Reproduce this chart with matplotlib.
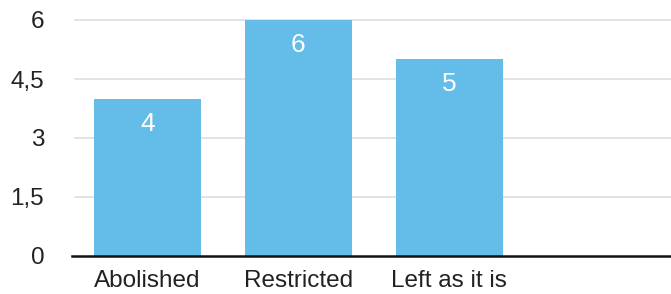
import matplotlib.pyplot as plt

categories = ['Abolished', 'Restricted', 'Left as it is', '']
values = [4, 6, 5, None]
y_ticks = [0, 1.5, 3, 4.5, 6]
y_tick_labels = ['0', '1,5', '3', '4,5', '6']

plt.rcParams['font.family'] = ['Liberation Sans', 'DejaVu Sans']

fig = plt.figure(figsize=(6.71, 2.94), dpi=100)
ax = fig.add_axes([72 / 671, 38 / 294, (671 - 72) / 671, 236 / 294])

xs = list(range(len(categories)))
bar_x = [x for x, v in zip(xs, values) if v is not None]
bar_v = [v for v in values if v is not None]
ax.bar(bar_x, bar_v, width=0.71, color='#64bde9', zorder=2)

for x, v in zip(bar_x, bar_v):
    ax.annotate(str(v), (x, v), xytext=(0, -25), textcoords='offset pixels',
                ha='center', va='center', color='white', fontsize=19, zorder=3)

ax.set_xlim(-0.5, 3.47)
ax.set_ylim(0, 6)
ax.set_yticks(y_ticks)
ax.set_yticklabels(y_tick_labels)
ax.set_xticks(xs)
ax.set_xticklabels(categories)

for y in y_ticks[1:]:
    ax.axhline(y, xmin=0.005, color='#dedede', linewidth=1.2, zorder=1, clip_on=False)

for s in ['top', 'right', 'left']:
    ax.spines[s].set_visible(False)
ax.spines['bottom'].set_color('#111111')
ax.spines['bottom'].set_linewidth(1.8)
ax.spines['bottom'].set_zorder(4)

ax.tick_params(axis='y', length=0, pad=20, labelsize=17.5, labelcolor='#222222')
ax.tick_params(axis='x', length=0, pad=10, labelsize=17.5, labelcolor='#222222')

fig.savefig('out.png', dpi=100)
